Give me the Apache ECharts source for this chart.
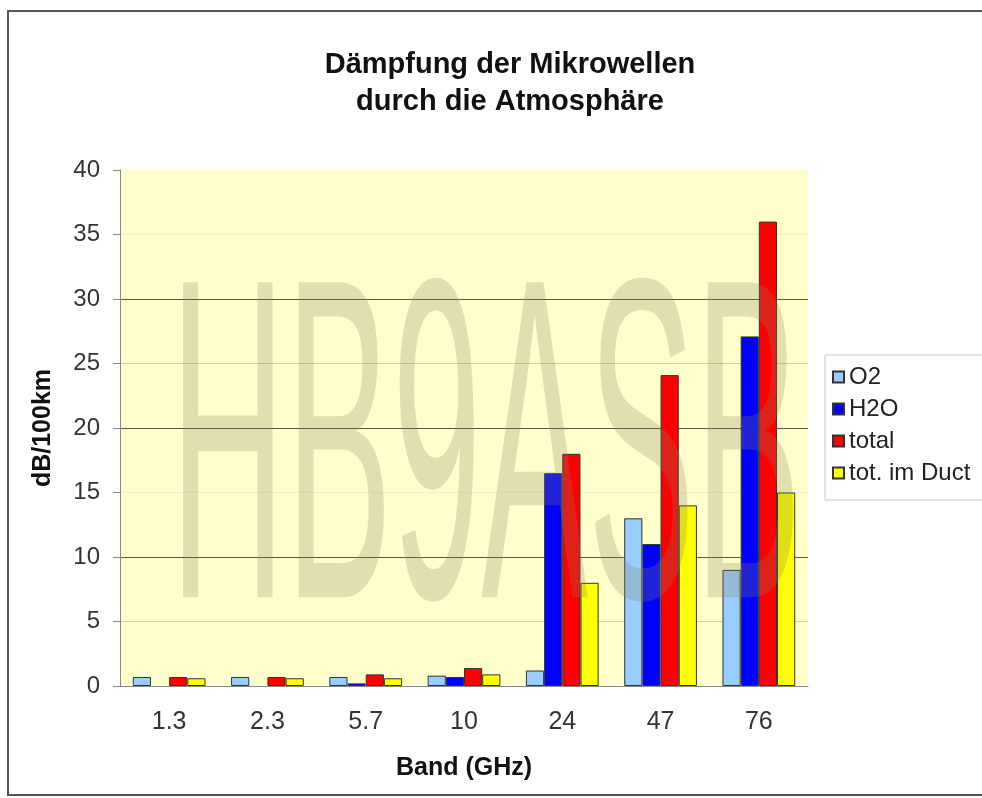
<!DOCTYPE html>
<html>
<head>
<meta charset="utf-8">
<script src="https://cdn.jsdelivr.net/npm/echarts@6/dist/echarts.min.js"></script>
<style>
  html, body { margin: 0; padding: 0; background: #fff; }
  #chart { width: 982px; height: 798px; }
</style>
</head>
<body>
<div id="chart"></div>
<script>
// Dämpfung pro Band (dB/100km)
var bands = ['1.3', '2.3', '5.7', '10', '24', '47', '76']
var o2Data = [0.7, 0.7, 0.7, 0.8, 1.2, 13, 9]
var h2oData = [0, 0, 0.2, 0.7, 16.5, 11, 27.1]
var totalData = [0.7, 0.7, 0.9, 1.4, 18, 24.1, 36]
var ductData = [0.6, 0.6, 0.6, 0.9, 8, 14, 15]
var yTicks = [0, 5, 10, 15, 20, 25, 30, 35, 40]

var font = '"Liberation Sans", Arial, sans-serif'

function bar(name, data, color) {
  return {
    name: name,
    type: 'bar',
    // zero values get no outline, like the original
    data: data.map(function(v) {
      return v === 0 ? { value: v, itemStyle: { borderWidth: 0 } } : v
    }),
    barGap: 0,
    barCategoryGap: '26%',
    itemStyle: {
      color: color,
      borderColor: '#333',
      borderWidth: 1
    }
  }
}

var chart = echarts.init(document.getElementById('chart'), null, { renderer: 'canvas' })
chart.setOption({
  backgroundColor: '#fff',
  animation: false,
  title: {
    text: 'Dämpfung der Mikrowellen\ndurch die Atmosphäre',
    left: 505,
    textAlign: 'center',
    top: 41,
    textStyle: {
      fontFamily: font,
      fontWeight: 'bold',
      fontSize: 29,
      lineHeight: 37,
      color: '#111'
    }
  },
  grid: {
    left: 120,
    top: 170,
    right: 174,
    bottom: 112,
    show: true,
    backgroundColor: '#FFFFCC',
    borderWidth: 0
  },
  legend: {
    orient: 'vertical',
    left: 825,
    top: 355,
    padding: [10, 40, 15, 7],
    itemGap: 8,
    itemWidth: 11,
    itemHeight: 11,
    icon: 'rect',
    backgroundColor: '#fff',
    borderColor: '#c8c8c8',
    borderWidth: 1,
    textStyle: { fontFamily: font, fontSize: 24, color: '#222', padding: [0, 0, 0, 0] },
    data: ['O2', 'H2O', 'total', 'tot. im Duct']
  },
  xAxis: {
    type: 'category',
    data: bands,
    name: 'Band (GHz)',
    nameLocation: 'middle',
    nameGap: 70,
    nameTextStyle: { fontFamily: font, fontWeight: 'bold', fontSize: 25, color: '#111' },
    axisLine: { lineStyle: { color: '#888', width: 1 } },
    axisTick: { length: 7, lineStyle: { color: '#888' } },
    axisLabel: { margin: 24, fontFamily: font, fontSize: 25, color: '#333' }
  },
  yAxis: {
    type: 'value',
    min: yTicks[0],
    max: yTicks[yTicks.length - 1],
    interval: 5,
    name: 'dB/100km',
    nameLocation: 'middle',
    nameGap: 64,
    nameTextStyle: { fontFamily: font, fontWeight: 'bold', fontSize: 25, color: '#111' },
    axisLine: { show: true, lineStyle: { color: '#888', width: 1 } },
    axisTick: { show: true, length: 7, lineStyle: { color: '#888' } },
    axisLabel: { margin: 20, fontFamily: font, fontSize: 24, color: '#333' },
    splitLine: {
      show: true,
      lineStyle: {
        width: 1,
        color: ['rgba(0,0,0,0)', '#cfcda6', '#5a5a44', '#f2f0c6', '#5a5a44', '#cfcda6', '#5a5a44', '#f2f0c6', 'rgba(0,0,0,0)']
      }
    }
  },
  graphic: [
    {
      // Wasserzeichen
      type: 'text',
      x: 170,
      y: 471,
      scaleY: 2.86,
      z: 100,
      silent: true,
      style: {
        text: 'HB9ASB',
        font: '160px "Liberation Sans", Arial, sans-serif',
        fill: 'rgba(130,130,95,0.26)',
        textVerticalAlign: 'middle',
        textAlign: 'left'
      }
    },
    {
      type: 'rect',
      z: -10,
      silent: true,
      shape: { x: 8, y: 11, width: 1000, height: 784 },
      style: { fill: 'none', stroke: '#555', lineWidth: 2 }
    }
  ],
  series: [
    bar('O2', o2Data, '#99CCFF'),
    bar('H2O', h2oData, '#0000FF'),
    bar('total', totalData, '#FF0000'),
    bar('tot. im Duct', ductData, '#FFFF00')
  ]
})
</script>
</body>
</html>
